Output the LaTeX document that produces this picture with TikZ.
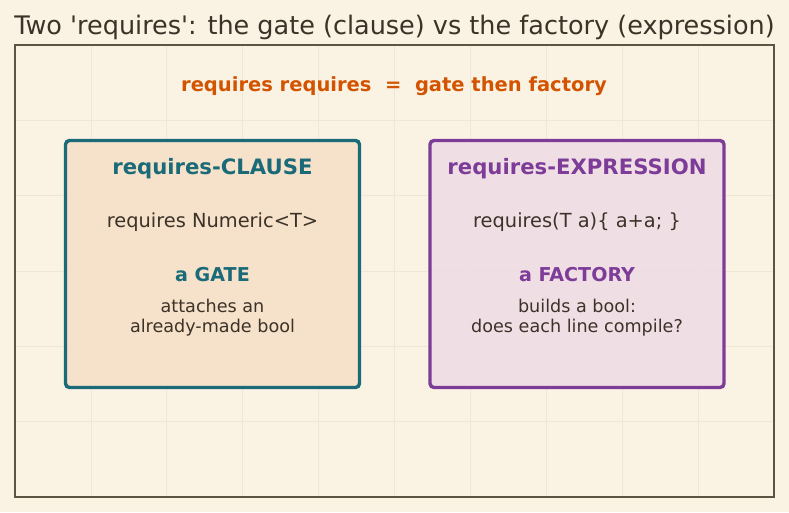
\documentclass[tikz,border=0pt]{standalone}
\usepackage{fontspec}
\setmainfont{DejaVu Sans}
\usepackage{xcolor}
\usetikzlibrary{positioning}
\definecolor{reqpaper}{HTML}{FAF3E4}
\definecolor{reqgrid}{HTML}{EFE7D6}
\definecolor{reqframe}{HTML}{5E5444}
\definecolor{reqink}{HTML}{3B3228}
\definecolor{reqorange}{HTML}{D35400}
\definecolor{reqteal}{HTML}{1B6A78}
\definecolor{reqtealbg}{HTML}{F6E0C6}
\definecolor{reqpurple}{HTML}{7D3C98}
\definecolor{reqpurplebg}{HTML}{EFDBE6}

\begin{document}
\begin{tikzpicture}[x=1pt, y=-1pt,
    panel/.style={rectangle, rounded corners=4pt, line width=3.4pt, inner sep=0pt,
      minimum width=294pt, minimum height=247pt, fill opacity=0.85},
    head/.style={anchor=base, font=\bfseries\fontsize{21.2}{25}\selectfont},
    code/.style={anchor=base, color=reqink, font=\fontsize{19.4}{23}\selectfont},
    role/.style={anchor=base, font=\bfseries\fontsize{19.1}{23}\selectfont},
    note/.style={anchor=base, align=center, color=reqink, font=\fontsize{17.6}{20}\selectfont}
  ]
  \useasboundingbox[fill=reqpaper] (0,0) rectangle (789,512);

  % faint grid inside the frame
  \foreach \i in {1,...,9}
    \draw[reqgrid, line width=0.8pt] (15+75.9*\i,45) -- (15+75.9*\i,497);
  \foreach \j in {1,...,5}
    \draw[reqgrid, line width=0.8pt] (15,45+75.33*\j) -- (774,45+75.33*\j);
  \draw[reqframe, line width=1.5pt] (15,45) rectangle (774,497);

  \node[anchor=base, color=reqink, font=\fontsize{25.5}{30}\selectfont] (title) at (394.5,34)
    {Two \textquotesingle requires\textquotesingle: the gate (clause) vs the factory (expression)};
  \node[anchor=base, color=reqorange, font=\bfseries\fontsize{19.5}{23}\selectfont] (motto) at (394,91)
    {requires requires\ \ =\ \ gate then factory};

  % the two panels
  \node[panel, draw=reqteal, fill=reqtealbg] (clause) at (212.5,264) {};
  \node[panel, draw=reqpurple, fill=reqpurplebg] (expr) at (577,264) {};

  \node[head, color=reqteal] (clausehead) at (212.5,174) {requires-CLAUSE};
  \node[code] (clausecode) at (212.5,227) {requires Numeric<T>};
  \node[role, color=reqteal] (gate) at (212.5,281) {a GATE};
  \node[note] (gatenote) at (212.5,332) {attaches an\\already-made bool};

  \node[head, color=reqpurple] (exprhead) at (577,174) {requires-EXPRESSION};
  \node[code] (exprcode) at (577,227) {requires(T a)\{ a+a; \}};
  \node[role, color=reqpurple] (factory) at (577,281) {a FACTORY};
  \node[note] (factorynote) at (577,332) {builds a bool:\\does each line compile?};
\end{tikzpicture}
\end{document}
